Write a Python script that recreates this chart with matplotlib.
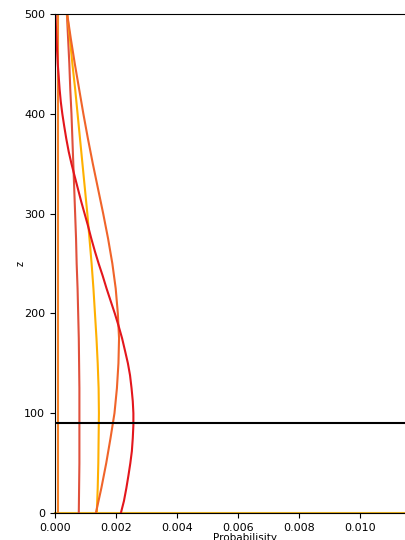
import numpy as np
import matplotlib
matplotlib.use("Agg")
import matplotlib.pyplot as plt

z = [0, 25, 50, 75, 100, 125, 150, 175, 200, 225, 250,
     275, 300, 325, 350, 375, 400, 425, 450, 475, 500]

# probability profiles
p_flat = [0.0001] * len(z)
p_redorange = [0.00078, 0.00079, 0.0008, 0.0008, 0.0008, 0.0008, 0.00079, 0.00078, 0.00076, 0.00074, 0.00071,
               0.00069, 0.00066, 0.00063, 0.0006, 0.00057, 0.00054, 0.0005, 0.00047, 0.00043, 0.00039]
p_yellow = [0.00137, 0.0014, 0.00142, 0.00143, 0.00144, 0.00143, 0.0014, 0.00136, 0.00131, 0.00126, 0.0012,
            0.00113, 0.00106, 0.00098, 0.0009, 0.00082, 0.00074, 0.00066, 0.00057, 0.00049, 0.0004]
p_orange = [0.00134, 0.00152, 0.00168, 0.00182, 0.00195, 0.00203, 0.00208, 0.0021, 0.00206, 0.00199, 0.00188,
            0.00174, 0.00158, 0.00141, 0.00124, 0.00108, 0.00093, 0.00079, 0.00065, 0.00052, 0.0004]

# the red curve bends more, so it was read at finer steps
z_red = [0, 12, 25, 38, 50, 62, 75, 88, 100, 112, 125, 138, 150, 162, 175, 188, 200, 212, 225, 238, 250,
         262, 275, 288, 300, 312, 325, 338, 350, 362, 375, 388, 400, 412, 425, 438, 450, 462, 475, 488, 500]
p_red = [0.00216, 0.00226, 0.00234, 0.00241, 0.00247, 0.00252, 0.00255, 0.00257, 0.00257, 0.00255, 0.00251,
         0.00246, 0.00239, 0.0023, 0.0022, 0.00208, 0.00196, 0.00183, 0.00169, 0.00156, 0.00143,
         0.00131, 0.00119, 0.00108, 0.00097, 0.00086, 0.00075, 0.00064, 0.00054, 0.00045, 0.00037, 0.00030,
         0.00024, 0.00019, 0.00015, 0.00012, 0.00009, 0.00007, 0.00005, 0.00003, 0.00002]

z_line = 90

fig = plt.figure(figsize=(4.06, 5.40), dpi=100)
ax = fig.add_axes([55 / 406, 27 / 540, 380 / 406, 499 / 540])

ax.plot([0, 0.0125], [0, 0], color="#e8b020", lw=1.5, zorder=1, clip_on=False)
ax.plot(p_flat, z, color="#f5822a", lw=1.5)
ax.plot(p_redorange, z, color="#e0503c", lw=1.5)
ax.plot(p_yellow, z, color="#ffb000", lw=1.5)
ax.plot(p_orange, z, color="#f0642a", lw=1.5)
ax.plot(p_red, z_red, color="#e3161c", lw=1.5)
ax.axhline(z_line, color="black", lw=1.5)

ax.set_xlim(0, 380 / 30500)
ax.set_ylim(0, 500)
ax.set_xticks([0, 0.002, 0.004, 0.006, 0.008, 0.010])
ax.set_yticks([0, 100, 200, 300, 400, 500])
ax.xaxis.set_major_formatter(matplotlib.ticker.FormatStrFormatter("%.3f"))
ax.tick_params(labelsize=8)
ax.set_xlabel("Probabilisity", fontsize=7.5, labelpad=0)
ax.set_ylabel("z", fontsize=7, labelpad=-1)

fig.savefig("out.png", dpi=100)
